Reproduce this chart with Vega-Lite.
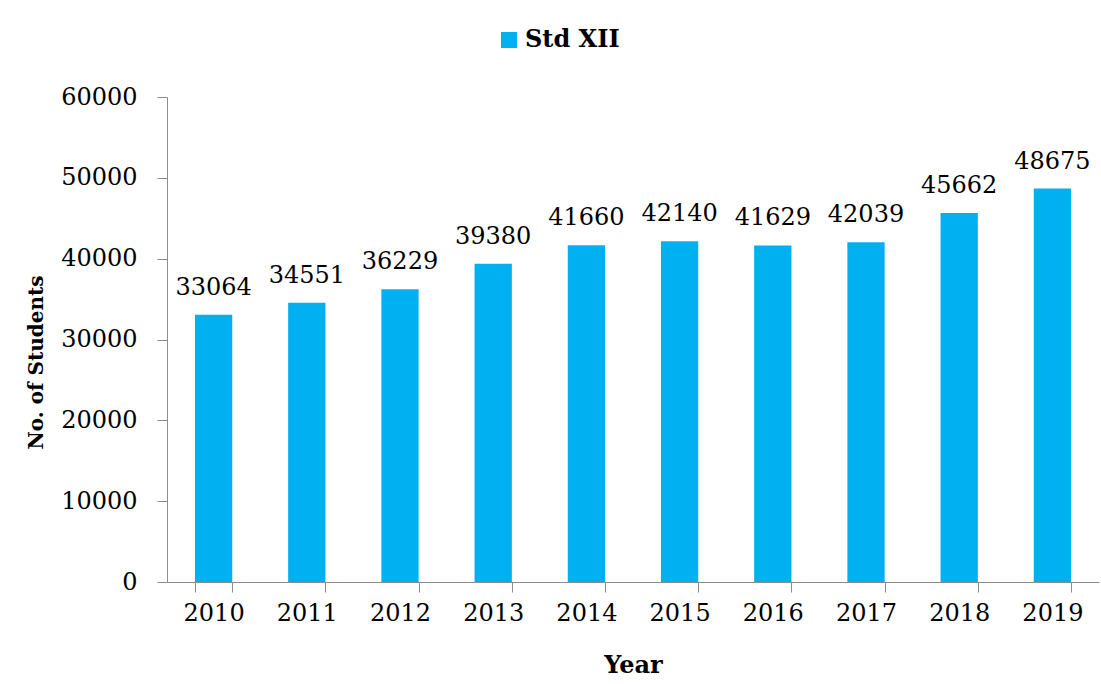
{
  "$schema": "https://vega.github.io/schema/vega-lite/v6.json",
  "autosize": {"type": "none"},
  "padding": {"left": 167, "top": 97, "right": 2, "bottom": 102},
  "width": 932,
  "height": 485,
  "background": "white",
  "config": {
    "view": {"stroke": null},
    "font": "DejaVu Serif, serif"
  },
  "data": {
    "values": [
      {"year": "2010", "students": 33064, "series": "Std XII"},
      {"year": "2011", "students": 34551, "series": "Std XII"},
      {"year": "2012", "students": 36229, "series": "Std XII"},
      {"year": "2013", "students": 39380, "series": "Std XII"},
      {"year": "2014", "students": 41660, "series": "Std XII"},
      {"year": "2015", "students": 42140, "series": "Std XII"},
      {"year": "2016", "students": 41629, "series": "Std XII"},
      {"year": "2017", "students": 42039, "series": "Std XII"},
      {"year": "2018", "students": 45662, "series": "Std XII"},
      {"year": "2019", "students": 48675, "series": "Std XII"}
    ]
  },
  "encoding": {
    "x": {
      "field": "year",
      "type": "ordinal",
      "scale": {"paddingInner": 0.6, "paddingOuter": 0.3},
      "axis": {
        "title": "Year",
        "labelAngle": 0,
        "labelFont": "DejaVu Serif, serif",
        "labelFontSize": 24,
        "labelColor": "black",
        "labelPadding": 9,
        "tickBand": "extent",
        "tickSize": 10,
        "tickColor": "#8c8c8c",
        "domainColor": "#8c8c8c",
        "titleFont": "DejaVu Serif, serif",
        "titleFontSize": 24,
        "titleFontWeight": "bold",
        "titleColor": "black",
        "titleX": 466,
        "titleY": 83,
        "titleBaseline": "middle",
        "titleAlign": "center",
        "grid": false
      }
    },
    "y": {
      "field": "students",
      "type": "quantitative",
      "scale": {"domain": [0, 60000], "nice": false},
      "axis": {
        "title": "No. of Students",
        "values": [0, 10000, 20000, 30000, 40000, 50000, 60000],
        "format": "d",
        "labelFont": "DejaVu Serif, serif",
        "labelFontSize": 24,
        "labelColor": "black",
        "labelPadding": 20,
        "tickSize": 10,
        "tickColor": "#8c8c8c",
        "domainColor": "#8c8c8c",
        "grid": false,
        "titleFont": "DejaVu Serif, serif",
        "titleFontSize": 20,
        "titleFontWeight": "bold",
        "titleColor": "black",
        "titleAngle": -90,
        "titleX": -131,
        "titleY": 265,
        "titleAlign": "center",
        "titleBaseline": "middle"
      }
    }
  },
  "layer": [
    {
      "mark": {"type": "bar"},
      "encoding": {
        "color": {
          "field": "series",
          "type": "nominal",
          "scale": {"range": ["#00B0F0"]},
          "legend": {
            "title": null,
            "orient": "none",
            "legendX": 330,
            "legendY": -69,
            "symbolType": "square",
            "symbolSize": 256,
            "symbolStrokeWidth": 0,
            "labelFont": "DejaVu Serif, serif",
            "labelFontSize": 24,
            "labelFontWeight": "bold",
            "labelColor": "black",
            "labelOffset": 4
          }
        }
      }
    },
    {
      "mark": {"type": "text", "baseline": "alphabetic", "dy": -20, "fontSize": 24, "font": "DejaVu Serif, serif", "color": "black"},
      "encoding": {
        "text": {"field": "students", "type": "quantitative", "format": "d"}
      }
    }
  ]
}
